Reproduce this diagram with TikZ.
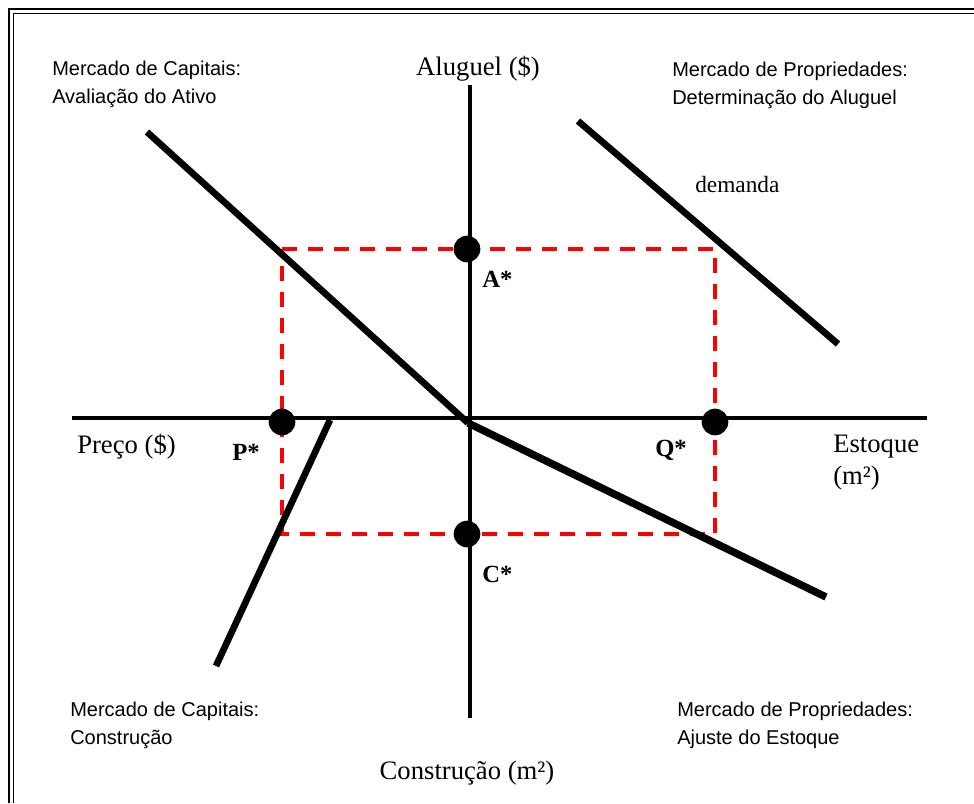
\documentclass[tikz,border=0pt]{standalone}
\usepackage{fontspec}
\setmainfont{Liberation Serif}
\newfontfamily\arialf{Liberation Sans}
\begin{document}
\begin{tikzpicture}[x=0.75pt,y=-0.75pt,
  axis/.style={line width=2.8pt},
  curve/.style={line width=5pt},
  guide/.style={color=red, line width=2.6pt, dash pattern=on 11.5pt off 8pt},
  dot/.style={circle, fill=black, inner sep=0pt, minimum size=20pt},
  mlabel/.style={font=\arialf\fontsize{15}{20.5}\selectfont, align=left, anchor=north west, inner sep=0pt},
  axlabel/.style={font=\fontsize{20}{24}\selectfont, inner sep=0pt},
  starlabel/.style={font=\bfseries\fontsize{18.5}{20}\selectfont, inner sep=0pt, anchor=base west}]
\useasboundingbox (0,0) rectangle (974,803);
% frame
\draw[line width=1.5pt] (9,803) -- (9,9) -- (974,9);
\draw[line width=0.8pt] (13.5,803) -- (13.5,13.5) -- (974,13.5);
% axes points
\coordinate (yt) at (470,85);
\coordinate (yb) at (470,718);
\coordinate (xl) at (72,418);
\coordinate (xr) at (927,418);
% equilibrium points
\coordinate (Ap) at (467,249);
\coordinate (Cp) at (467,534);
\coordinate (Pp) at (282,422);
\coordinate (Qp) at (715,422);
% dashed rectangle
\draw[guide] (Pp |- Ap) -- (Qp |- Ap) -- (Qp |- Cp) -- (Pp |- Cp) -- cycle;
% axes
\draw[axis] (yt) -- (yb);
\draw[axis] (xl) -- (xr);
% curves
\coordinate (v1) at (147,132);
\coordinate (O) at (468,423);
\coordinate (s2) at (826,597);
\coordinate (d1) at (578,121);
\coordinate (d2) at (838,344);
\coordinate (c1) at (330,420);
\coordinate (c2) at (216,666);
\draw[curve] (v1) -- (O);
\draw[line width=5.6pt] (O) -- (s2);
\draw[curve] (d1) -- (d2);
\draw[curve] (c1) -- (c2);
% dots
\node[dot] (A) at (Ap) {};
\node[dot] (C) at (Cp) {};
\node[dot] (P) at (Pp) {};
\node[dot] (Q) at (Qp) {};
% star labels
\node[starlabel] (Al) at (482,287) {A*};
\node[starlabel] (Pl) at (232,460) {P*};
\node[starlabel] (Ql) at (655,456) {Q*};
\node[starlabel] (Cl) at (482,582) {C*};
% axis labels
\node[axlabel, anchor=base] (alug) at (478,75) {Aluguel (\$)};
\node[axlabel, anchor=base west] (preco) at (77,453) {Preço (\$)};
\node[axlabel, anchor=base west, align=left] (estq) at (833,452) {Estoque};
\node[axlabel, anchor=base west] (m2) at (833,484) {(m²)};
\node[axlabel, anchor=base] (constr) at (467,779) {Construção (m²)};
\node[font=\fontsize{17.5}{20}\selectfont, inner sep=0pt, anchor=base west] (dem) at (695,192) {demanda};
% market labels
\node[mlabel] (tl) at (52,61) {Mercado de Capitais:\\Avaliação do Ativo};
\node[mlabel] (tr) at (672,62) {Mercado de Propriedades:\\Determinação do Aluguel};
\node[mlabel] (bl) at (70,702) {Mercado de Capitais:\\Construção};
\node[mlabel] (br) at (677,702) {Mercado de Propriedades:\\Ajuste do Estoque};
\end{tikzpicture}
\end{document}
